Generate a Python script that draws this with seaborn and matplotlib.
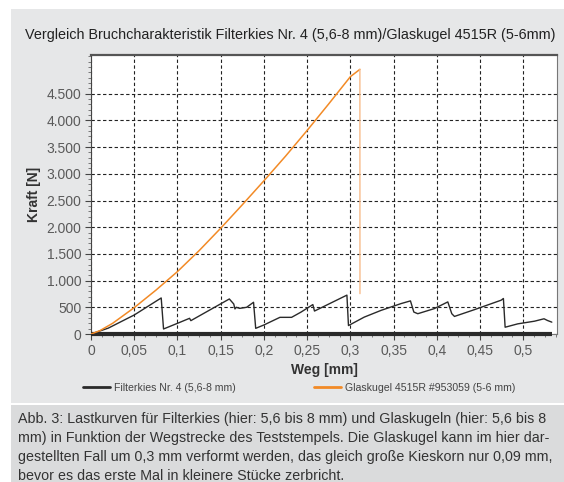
import matplotlib
matplotlib.use("Agg")
import matplotlib.pyplot as plt
import matplotlib.ticker as mticker
from matplotlib.patches import Rectangle
import seaborn as sns
import pandas as pd

# ---------------- data ----------------
title = "Vergleich Bruchcharakteristik Filterkies Nr. 4 (5,6-8 mm)/Glaskugel 4515R (5-6mm)"
series_kies = "Filterkies Nr. 4 (5,6-8 mm)"
series_glas = "Glaskugel 4515R #953059 (5-6 mm)"
xlabel = "Weg [mm]"
ylabel = "Kraft [N]"
caption = ("Abb. 3: Lastkurven für Filterkies (hier: 5,6 bis 8 mm) und Glaskugeln (hier: 5,6 bis 8\n"
           "mm) in Funktion der Wegstrecke des Teststempels. Die Glaskugel kann im hier dar-\n"
           "gestellten Fall um 0,3 mm verformt werden, das gleich große Kieskorn nur 0,09 mm,\n"
           "bevor es das erste Mal in kleinere Stücke zerbricht.")

glas_x = [0.0, 0.01, 0.025, 0.05, 0.075, 0.1, 0.125, 0.15, 0.175, 0.2, 0.225, 0.25, 0.275, 0.3, 0.311]
glas_y = [0, 60, 200, 494, 820, 1169, 1560, 1981, 2420, 2869, 3330, 3812, 4310, 4819, 4956]
glas_drop_x = [0.311, 0.3111]
glas_drop_y = [4956, 756]

kies_x = [0.0, 0.02, 0.05, 0.0812, 0.0839, 0.1, 0.114, 0.1155, 0.16, 0.1651, 0.1665,
          0.168, 0.172, 0.18, 0.188, 0.1905, 0.2, 0.2185, 0.232, 0.243, 0.2566, 0.2585,
          0.296, 0.2978, 0.316, 0.3356, 0.3587, 0.3695, 0.3734, 0.378, 0.397, 0.4127,
          0.4173, 0.4204, 0.4435, 0.4744, 0.477, 0.479, 0.4936, 0.513, 0.524, 0.528, 0.533]
kies_y = [0, 110, 356, 675, 94, 200, 294, 250, 656, 562, 469, 500, 480, 500, 594, 106,
          169, 312, 312, 411, 551, 430, 728, 158, 316, 443, 570, 620, 411, 380, 475, 601,
          380, 329, 456, 633, 665, 127, 190, 240, 285, 253, 222]

x_ticks = [0, 0.05, 0.1, 0.15, 0.2, 0.25, 0.3, 0.35, 0.4, 0.45, 0.5]
x_ticklabels = ["0", "0,05", "0,1", "0,15", "0,2", "0,25", "0,3", "0,35", "0,4", "0,45", "0,5"]
y_ticks = [0, 500, 1000, 1500, 2000, 2500, 3000, 3500, 4000, 4500]
y_ticklabels = ["0", "500", "1.000", "1.500", "2.000", "2.500", "3.000", "3.500", "4.000", "4.500"]

# ---------------- style ----------------
sns.set_theme(style="white")
plt.rcParams["font.family"] = ["Liberation Sans", "DejaVu Sans"]

PANEL = "#e6e7e8"
CAPBOX = "#dadbdc"
ORANGE = "#f28a26"
ORANGE_LIGHT = "#f7bb8a"
BLACK = "#2a2a2a"
TICKC = "#5a5a5a"

fig = plt.figure(figsize=(5.64, 4.82), dpi=100)
fig.patch.set_facecolor("white")
W, H = 564, 482

def fx(px):
    return px / W

def fy(py):
    return 1 - py / H

# background panels
fig.patches.append(Rectangle((fx(11), fy(403)), fx(553), 394 / H, transform=fig.transFigure,
                             facecolor=PANEL, edgecolor="none", zorder=-10))
fig.patches.append(Rectangle((fx(11), 0), fx(553), 77 / H, transform=fig.transFigure,
                             facecolor=CAPBOX, edgecolor="none", zorder=-10))

ax = fig.add_axes([fx(91), fy(334), fx(557 - 91), (334 - 55) / H])
ax.set_facecolor("white")

df_k = pd.DataFrame({"x": kies_x, "y": kies_y})
df_g = pd.DataFrame({"x": glas_x, "y": glas_y})
df_gd = pd.DataFrame({"x": glas_drop_x, "y": glas_drop_y})

# baseline under filterkies
ax.hlines(0, kies_x[0], kies_x[-1], color=BLACK, lw=3.0, zorder=4, clip_on=False)
sns.lineplot(data=df_k, x="x", y="y", ax=ax, color=BLACK, lw=1.0, sort=False,
             estimator=None, label=series_kies, zorder=5)
sns.lineplot(data=df_g, x="x", y="y", ax=ax, color=ORANGE, lw=1.1, sort=False,
             estimator=None, label=series_glas, zorder=6)
sns.lineplot(data=df_gd, x="x", y="y", ax=ax, color=ORANGE_LIGHT, lw=1.0, sort=False,
             estimator=None, legend=False, zorder=6)

ax.set_xlim(0, 0.539)
ax.set_ylim(0, 5225)

ax.set_xticks(x_ticks)
ax.set_xticklabels(x_ticklabels)
ax.set_yticks(y_ticks)
ax.set_yticklabels(y_ticklabels)
ax.xaxis.set_minor_locator(mticker.MultipleLocator(0.0125))
ax.yaxis.set_minor_locator(mticker.MultipleLocator(100))
ax.tick_params(axis="both", which="major", direction="out", length=4, width=0.8,
               color="#444444", labelcolor=TICKC, labelsize=10, pad=3,
               bottom=True, left=True)
ax.tick_params(axis="both", which="minor", direction="out", length=2.5, width=0.6,
               color="#666666", bottom=True, left=True)

ax.grid(True, which="major", color="#222222", linestyle=(0, (3, 2.2)), lw=0.8)
ax.set_axisbelow(True)

for side in ["left", "right", "bottom"]:
    ax.spines[side].set_color("#777777")
    ax.spines[side].set_linewidth(0.8)
ax.spines["left"].set_color("#444444")
ax.spines["top"].set_color("#555555")
ax.spines["top"].set_linewidth(1.6)

ax.set_xlabel(xlabel, fontsize=10, fontweight="bold", color="#333333", labelpad=4)
ax.set_ylabel(ylabel, fontsize=10, fontweight="bold", color="#333333", labelpad=4)

# legend below
ax.legend_.remove()
handles, labels = ax.get_legend_handles_labels()
leg = fig.legend(handles[:2], labels[:2], loc="center left", ncol=2,
                 bbox_to_anchor=(fx(83), fy(388)), frameon=False, fontsize=7.6,
                 handlelength=2.6, handletextpad=0.35, columnspacing=7.4,
                 borderpad=0, borderaxespad=0, labelcolor="#444444")
for line in leg.get_lines():
    line.set_linewidth(2.0)

fig.text(fx(25), fy(35), title, fontsize=10.4, color="#222222", va="center", ha="left")

fig.text(fx(18), fy(412), caption, fontsize=10.3, color="#333333", va="top", ha="left",
         linespacing=1.45)

fig.savefig("out.png", dpi=100, facecolor=fig.get_facecolor())
